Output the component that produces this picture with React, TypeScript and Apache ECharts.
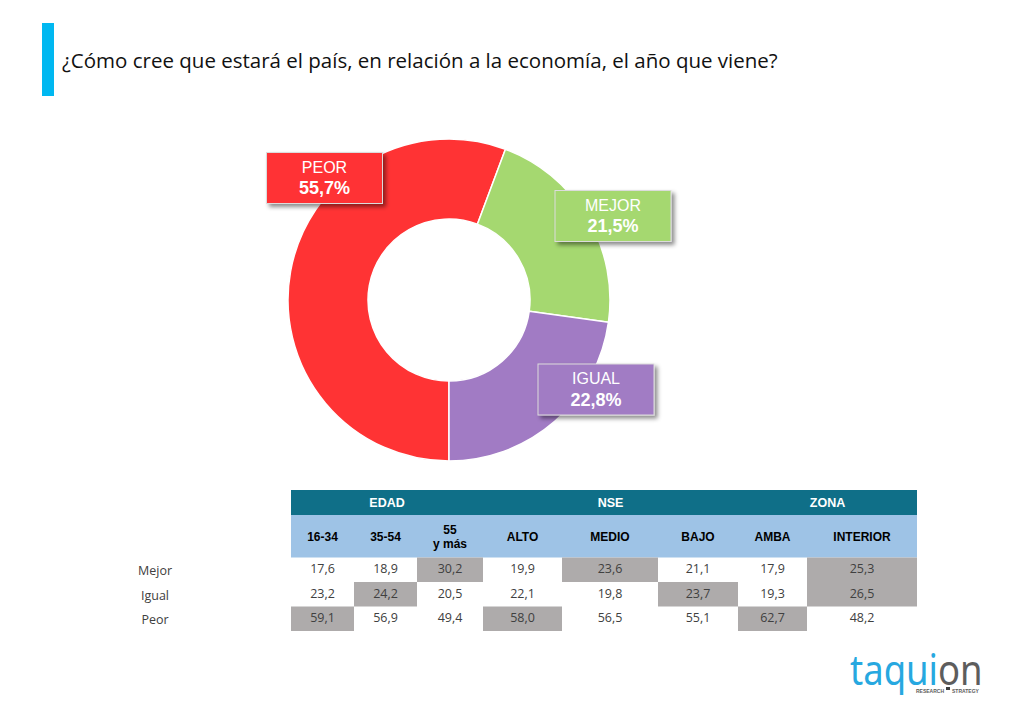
import React, { useEffect, useRef } from "react";
import * as echarts from "echarts";

// ---------- data ----------
const titleText = "¿Cómo cree que estará el país, en relación a la economía, el año que viene?";
const sliceNames = ["PEOR", "MEJOR", "IGUAL"];
const sliceValues = [55.7, 21.5, 22.8];
const sliceColors = ["#ff3334", "#a5d870", "#a17bc4"];

const groupNames = ["EDAD", "NSE", "ZONA"];
const groupSpans = [3, 3, 2];
const columnLabels = ["16-34", "35-54", "55\ny más", "ALTO", "MEDIO", "BAJO", "AMBA", "INTERIOR"];
const rowLabels = ["Mejor", "Igual", "Peor"];
const mejorValues = [17.6, 18.9, 30.2, 19.9, 23.6, 21.1, 17.9, 25.3];
const igualValues = [23.2, 24.2, 20.5, 22.1, 19.8, 23.7, 19.3, 26.5];
const peorValues = [59.1, 56.9, 49.4, 58.0, 56.5, 55.1, 62.7, 48.2];

// ---------- layout ----------
const labelCenters = [
  [324.5, 178],
  [613, 216],
  [596, 389.5],
];
const tableLeft = 291;
const colWidths = [63, 63, 66, 79, 96, 80, 69, 110];
const head1Top = 490;
const head1H = 25;
const head2H = 42.5;
const rowH = 24.5;
const rowLabelX = 155;

const fmt = (v: number) => v.toFixed(1).replace(".", ",");

function buildTable() {
  const els: any[] = [];
  const totalW = colWidths.reduce((a, b) => a + b, 0);
  const head2Top = head1Top + head1H;
  const bodyTop = head2Top + head2H;
  const colX: number[] = [];
  let acc = tableLeft;
  colWidths.forEach((w) => {
    colX.push(acc);
    acc += w;
  });
  els.push({ type: "rect", shape: { x: tableLeft, y: head1Top, width: totalW, height: head1H }, style: { fill: "#0f6f88" } });
  els.push({ type: "rect", shape: { x: tableLeft, y: head2Top, width: totalW, height: head2H }, style: { fill: "#9ec3e6" } });
  let ci = 0;
  groupNames.forEach((g, gi) => {
    const start = colX[ci];
    let w = 0;
    for (let k = 0; k < groupSpans[gi]; k++) w += colWidths[ci + k];
    els.push({
      type: "text",
      x: start + w / 2,
      y: head1Top + head1H / 2 + 0.5,
      style: { text: g, fill: "#ffffff", fontFamily: "Liberation Sans, Arial", fontWeight: "bold", fontSize: 12.5, align: "center", verticalAlign: "middle" },
    });
    ci += groupSpans[gi];
  });
  columnLabels.forEach((c, i) => {
    els.push({
      type: "text",
      x: colX[i] + colWidths[i] / 2,
      y: head2Top + head2H / 2 + 1,
      style: { text: c, fill: "#000000", fontFamily: "Liberation Sans, Arial", fontWeight: "bold", fontSize: 12, lineHeight: 14, align: "center", verticalAlign: "middle" },
    });
  });
  const rows = [mejorValues, igualValues, peorValues];
  rows.forEach((vals, r) => {
    const y = bodyTop + r * rowH;
    // highlight: max within each group
    const hl: boolean[] = vals.map(() => false);
    let s = 0;
    groupSpans.forEach((span) => {
      let best = s;
      for (let k = s; k < s + span; k++) if (vals[k] > vals[best]) best = k;
      hl[best] = true;
      s += span;
    });
    vals.forEach((v, i) => {
      if (hl[i]) {
        els.push({ type: "rect", shape: { x: colX[i], y, width: colWidths[i], height: rowH }, style: { fill: "#aeabab" } });
      }
    });
    vals.forEach((v, i) => {
      els.push({
        type: "text",
        x: colX[i] + colWidths[i] / 2,
        y: y + rowH / 2 - 1,
        style: { text: fmt(v), fill: "#404040", fontFamily: "Open Sans", fontSize: 12.5, align: "center", verticalAlign: "middle" },
      });
    });
    els.push({
      type: "text",
      x: rowLabelX,
      y: y + rowH / 2 + 1,
      style: { text: rowLabels[r], fill: "#404040", fontFamily: "Open Sans", fontSize: 12.5, align: "center", verticalAlign: "middle" },
    });
  });
  return els;
}

export default function App() {
  const ref = useRef<HTMLDivElement>(null);
  useEffect(() => {
    if (!ref.current) return;
    const chart = echarts.init(ref.current, null, { renderer: "svg" });
    const data = sliceNames.map((n, i) => ({
      name: n,
      value: sliceValues[i],
      itemStyle: { color: sliceColors[i] },
      label: { backgroundColor: sliceColors[i] },
    }));
    chart.setOption({
      animation: false,
      backgroundColor: "#ffffff",
      series: [
        {
          type: "pie",
          center: [449, 300],
          radius: [81, 161],
          startAngle: 270,
          clockwise: true,
          avoidLabelOverlap: false,
          itemStyle: { borderColor: "#ffffff", borderWidth: 1.5 },
          emphasis: { disabled: true },
          labelLine: { show: false },
          label: {
            show: true,
            formatter: (p: any) => `{n|${p.name}}\n{v|${fmt(p.value)}%}`,
            width: 115,
            padding: [4, 0, 4, 0],
            align: "center",
            borderColor: "#dcdcdc",
            borderWidth: 1,
            shadowColor: "rgba(0,0,0,0.45)",
            shadowBlur: 4,
            shadowOffsetX: 3,
            shadowOffsetY: 3,
            rich: {
              n: { fontFamily: "Liberation Sans, Arial", fontSize: 16, color: "#ffffff", lineHeight: 20, align: "center" },
              v: { fontFamily: "Liberation Sans, Arial", fontSize: 18, fontWeight: "bold", color: "#ffffff", lineHeight: 22, align: "center" },
            },
          },
          labelLayout: (params: any) => ({
            x: labelCenters[params.dataIndex][0],
            y: labelCenters[params.dataIndex][1],
            align: "center",
            verticalAlign: "middle",
          }),
          data,
        },
      ],
      graphic: [
        { type: "rect", shape: { x: 42, y: 23, width: 12, height: 73 }, style: { fill: "#00b8f1" } },
        {
          type: "text",
          x: 62,
          y: 60,
          style: { text: titleText, fill: "#111111", fontFamily: "Open Sans", fontSize: 20.5, align: "left", verticalAlign: "middle" },
        },
        ...buildTable(),
        {
          type: "text",
          x: 850,
          y: 669,
          scaleX: 0.89,
          style: {
            text: "{a|taqui}{b|on}",
            align: "left",
            verticalAlign: "middle",
            rich: {
              a: { fontFamily: "Noto Sans", fontSize: 41, fill: "#27a8e0", color: "#27a8e0" },
              b: { fontFamily: "Noto Sans", fontSize: 41, fill: "#5d5d5d", color: "#5d5d5d" },
            },
          },
        },
        {
          type: "text",
          x: 916,
          y: 691,
          style: { text: "RESEARCH", fill: "#5d5d5d", fontFamily: "Liberation Sans, Arial", fontWeight: "bold", fontSize: 5, align: "left", verticalAlign: "middle" },
        },
        { type: "rect", shape: { x: 946, y: 687, width: 4, height: 3 }, style: { fill: "#3d3d3d" } },
        {
          type: "text",
          x: 952,
          y: 691,
          style: { text: "STRATEGY", fill: "#5d5d5d", fontFamily: "Liberation Sans, Arial", fontWeight: "bold", fontSize: 5, align: "left", verticalAlign: "middle" },
        },
      ],
    });
    return () => chart.dispose();
  }, []);
  return <div ref={ref} style={{ position: "fixed", left: 0, top: 0, width: 1011, height: 705 }} />;
}
